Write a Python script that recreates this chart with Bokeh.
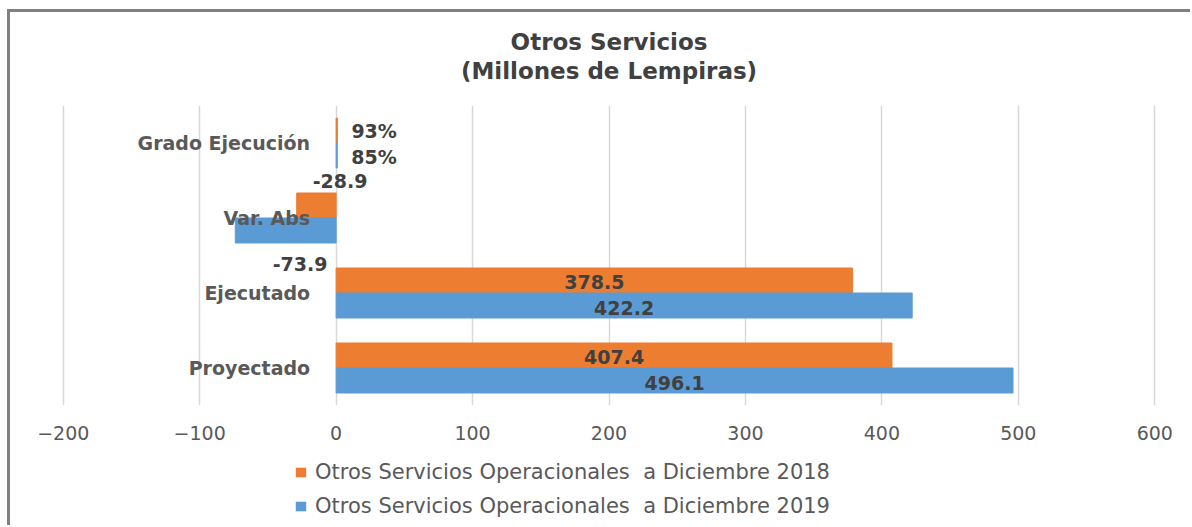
from bokeh.plotting import figure
from bokeh.layouts import column
from bokeh.models import (FactorRange, ColumnDataSource, Legend, LegendItem,
                          Range1d, FixedTicker)
from bokeh.transform import dodge
from bokeh.core.properties import value
from bokeh.embed import file_html
from bokeh.resources import INLINE

# ---------------- data ----------------
categories = ["Proyectado", "Ejecutado", "Var. Abs", "Grado Ejecución"]
serie_2018 = [407.4, 378.5, -28.9, 0.93]
serie_2019 = [496.1, 422.2, -73.9, 0.85]
series_names = ["Otros Servicios Operacionales  a Diciembre 2018",
                "Otros Servicios Operacionales  a Diciembre 2019"]
x_ticks = [-200, -100, 0, 100, 200, 300, 400, 500, 600]
title_lines = ["Otros Servicios", "(Millones de Lempiras)"]

# ---------------- style ----------------
FONT = "DejaVu Sans"
ORANGE = "#ED7D31"
BLUE = "#5B9BD5"
TXT_DARK = "#404040"
TXT_GREY = "#595959"
PCT_CAT = "Grado Ejecución"
W = 1180


def fmt(cat, v):
    return f"{v * 100:.0f}%" if cat == PCT_CAT else f"{v:.1f}"


def blank(fig):
    fig.grid.visible = False
    fig.outline_line_color = None
    fig.background_fill_color = "white"
    fig.border_fill_color = "white"


# ---------------- title strip ----------------
tt = figure(width=W, height=90, x_range=Range1d(0, 1), y_range=Range1d(0, 90),
            title=None, output_backend="svg", toolbar_location=None,
            x_axis_location=None, y_axis_location=None,
            min_border_left=0, min_border_right=0, min_border_top=0,
            min_border_bottom=0)
blank(tt)
tt.text(x=[0.5, 0.5], y=[61, 32], text=title_lines, text_align="center",
        text_baseline="middle", text_font=value(FONT), text_font_size="23px",
        text_font_style="bold", text_color=TXT_DARK)

# ---------------- main chart ----------------
p = figure(width=W, height=348, title=None,
           y_range=FactorRange(*categories),
           x_range=Range1d(x_ticks[0] - 2, x_ticks[-1] + 2),
           output_backend="svg", toolbar_location=None,
           min_border_left=50, min_border_right=33,
           min_border_top=3, min_border_bottom=45)
p.outline_line_color = None
p.background_fill_color = "white"
p.border_fill_color = "white"

p.xaxis.ticker = FixedTicker(ticks=x_ticks)
p.xaxis.axis_line_color = None
p.xaxis.major_tick_line_color = None
p.xaxis.minor_tick_line_color = None
p.xaxis.major_label_standoff = 14
p.xaxis.major_label_text_font = FONT
p.xaxis.major_label_text_font_size = "19px"
p.xaxis.major_label_text_color = TXT_GREY
p.yaxis.visible = False
p.xgrid.grid_line_color = "#d9d9d9"
p.xgrid.grid_line_width = 1.5
p.ygrid.visible = False

src = ColumnDataSource(dict(cat=categories, v18=serie_2018, v19=serie_2019))

p.hbar(y=dodge("cat", 0.1667, range=p.y_range), left=0, right="v18",
       height=0.333, fill_color=ORANGE, line_color=ORANGE, source=src)
p.hbar(y=dodge("cat", -0.1667, range=p.y_range), left=0, right="v19",
       height=0.333, fill_color=BLUE, line_color=BLUE, source=src)

# category labels next to the zero line
p.text(x=0, y="cat", text="cat", source=src, x_offset=-26,
       text_align="right", text_baseline="middle",
       text_font=value(FONT), text_font_size="19px", text_font_style="bold",
       text_color=TXT_GREY)


# data labels
def label_sources(vals, upper):
    groups = {"left": dict(cat=[], x=[], t=[], xo=[], yo=[]),
              "center": dict(cat=[], x=[], t=[], xo=[], yo=[])}
    for c, v in zip(categories, vals):
        if c == PCT_CAT:
            g = groups["left"]; x, xo, yo = v, 14, 1
        elif v < 0:
            g = groups["center"]; x = 0
            xo, yo = (4, -24) if upper else (-36, 33)
        else:
            g = groups["center"]; x, xo, yo = v / 2, 0, 2
        g["cat"].append(c); g["x"].append(x); g["t"].append(fmt(c, v))
        g["xo"].append(xo); g["yo"].append(yo)
    return groups


for vals, off, upper in ((serie_2018, 0.1667, True), (serie_2019, -0.1667, False)):
    for align, d in label_sources(vals, upper).items():
        p.text(x="x", y=dodge("cat", off, range=p.y_range), text="t",
               source=ColumnDataSource(d), x_offset="xo", y_offset="yo",
               text_align=align, text_baseline="middle", text_font=value(FONT),
               text_font_size="19px", text_font_style="bold", text_color=TXT_DARK)

# ---------------- legend strip ----------------
lg = figure(width=W, height=75, x_range=Range1d(0, 1), y_range=Range1d(0, 1),
            title=None, output_backend="svg", toolbar_location=None,
            x_axis_location=None, y_axis_location=None,
            min_border_left=0, min_border_right=0, min_border_top=0,
            min_border_bottom=0)
blank(lg)
# zero-size swatch renderers (only provide the legend keys' colours)
swatch = ColumnDataSource(dict(y=[0.5], l=[0.5], r=[0.5]))
k18 = lg.hbar(y="y", left="l", right="r", height=0, fill_color=ORANGE,
              line_color=None, source=swatch)
k19 = lg.hbar(y="y", left="l", right="r", height=0, fill_color=BLUE,
              line_color=None, source=swatch)
legend = Legend(items=[LegendItem(label=series_names[0], renderers=[k18]),
                       LegendItem(label=series_names[1], renderers=[k19])],
                orientation="vertical", location=(234, 7),
                label_text_font=FONT, label_text_font_size="21px",
                label_text_color=TXT_GREY, glyph_width=13, glyph_height=12,
                label_height=22, spacing=10, padding=2, margin=0,
                border_line_color=None, background_fill_alpha=0,
                label_standoff=8)
lg.add_layout(legend)

layout = column(tt, p, lg, spacing=0,
                styles={"border-left": "3px solid #808080",
                        "border-top": "3px solid #808080",
                        "margin-left": "7px", "margin-top": "9px"})
open("out.html", "w").write(file_html(layout, INLINE))
